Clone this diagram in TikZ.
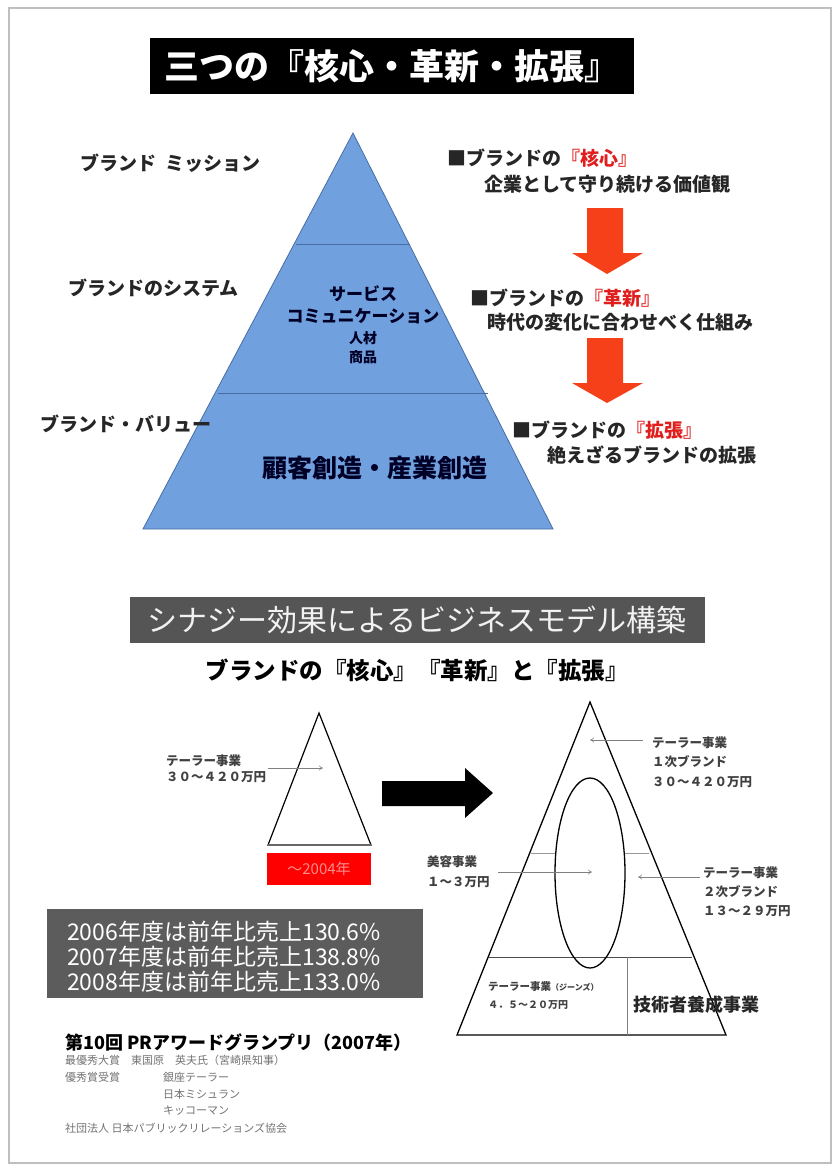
\documentclass[tikz,border=0pt]{standalone}
\usepackage{fontspec}
\setmainfont{Noto Sans CJK JP}
\usetikzlibrary{arrows.meta,shapes.geometric}
\definecolor{pyrblue}{RGB}{112,160,222}
\definecolor{pyredge}{RGB}{70,110,165}
\definecolor{arrred}{RGB}{245,64,26}
\definecolor{hired}{RGB}{225,30,30}
\definecolor{boxgrey}{RGB}{85,85,85}
\definecolor{statgrey}{RGB}{92,92,92}
\begin{document}
\begin{tikzpicture}[x=1pt,y=-1pt,
  txt/.style={inner sep=0pt},
  lab/.style={txt, font=\bfseries\fontsize{19}{22}\selectfont, text=black!85},
  mid/.style={txt, font=\bfseries\fontsize{17}{20}\selectfont, text=black!85!blue},
  sm/.style={txt, anchor=west, font=\bfseries\fontsize{12.5}{14}\selectfont\addfontfeature{RawFeature=+fwid}, text=black!75},
  note/.style={txt, anchor=west, font=\fontsize{11}{13}\selectfont, text=black!55},
  thinarrow/.style={draw=black!50, line width=0.6pt, -{To[length=4pt,width=5pt]}},
  outline/.style={draw=black, line width=1.3pt}
]
\useasboundingbox (0,0) rectangle (832,1164);
\fill[white] (0,0) rectangle (832,1164);
\draw[black!25, line width=1.5pt] (9,8) rectangle (831,1163);

% ---------- Title ----------
\node[fill=black, minimum width=484pt, minimum height=56pt, inner sep=0pt, text=white,
  font=\bfseries\fontsize{35}{38}\selectfont] (title) at (392,66) {三つの『核心・革新・拡張』};

% ---------- Blue pyramid ----------
\coordinate (apex) at (353,133);
\coordinate (bl) at (143,529);
\coordinate (br) at (553,529);
\filldraw[fill=pyrblue, draw=pyredge, line width=0.8pt] (apex) -- (bl) -- (br) -- cycle;
\draw[pyredge, line width=1pt] (296,244) -- (410,244);
\draw[pyredge, line width=1pt] (218,393) -- (488,393);

\node[mid] (svc) at (363,294) {サービス};
\node[mid] (comm) at (363,316) {コミュニケーション};
\node[mid, font=\bfseries\fontsize{14}{16}\selectfont] (hr) at (363,338) {人材};
\node[mid, font=\bfseries\fontsize{14}{16}\selectfont] (goods) at (363,357) {商品};
\node[txt, font=\bfseries\fontsize{25}{28}\selectfont, text=black!85!blue] (create) at (375,468) {顧客創造・産業創造};

% left labels
\node[lab, anchor=west] (mission) at (80,163) {ブランド\hspace{0.5em}ミッション};
\node[lab, anchor=west] (system) at (68,288) {ブランドのシステム};
\node[lab, anchor=west] (value) at (40,424) {ブランド・バリュー};

% right texts
\node[lab, anchor=west] (core) at (447,158) {■ブランドの\textcolor{hired}{『核心』}};
\node[lab, anchor=west] (coredesc) at (484,184) {企業として守り続ける価値観};
\node[lab, anchor=west] (innov) at (470,298) {■ブランドの\textcolor{hired}{『革新』}};
\node[lab, anchor=west] (innovdesc) at (487,322) {時代の変化に合わせべく仕組み};
\node[lab, anchor=west] (expand) at (512,430) {■ブランドの\textcolor{hired}{『拡張』}};
\node[lab, anchor=west] (expanddesc) at (547,455) {絶えざるブランドの拡張};

% red arrows
\fill[arrred] (587,208) -- (623,208) -- (623,253) -- (643,253) -- (607,274) -- (572,253) -- (587,253) -- cycle;
\fill[arrred] (587,338) -- (623,338) -- (623,383) -- (643,383) -- (607,403) -- (572,383) -- (587,383) -- cycle;

% ---------- Section 2 ----------
\node[fill=boxgrey, minimum width=575pt, minimum height=46pt, inner sep=0pt, text=white!95!black,
  font=\fontsize{30}{34}\selectfont] (synergy) at (417,620) {シナジー効果によるビジネスモデル構築};
\node[txt, font=\bfseries\fontsize{23.5}{28}\selectfont] (sub) at (417,670) {ブランドの『核心』『革新』と『拡張』};

% left small triangle
\draw[outline, line width=1.2pt, line join=miter] (319,713) -- (268,845) -- (371,845) -- cycle;
\draw[black!60, line width=1.6pt] (268,845) -- (371,845);
\node[fill=red, minimum width=104pt, minimum height=32pt, inner sep=0pt, text=red!45!white,
  font=\fontsize{15}{17}\selectfont] (year) at (319,869) {～2004年};
\node[sm] (tl1) at (166,761) {テーラー事業};
\node[sm] (tl2) at (166,777) {30～420万円};
\coordinate (a1s) at (268,768);
\coordinate (a1e) at (323,768);
\draw[thinarrow] (a1s) -- (a1e);

% big black arrow
\fill[black] (382,781) -- (465,781) -- (465,768) -- (493,793) -- (465,818) -- (465,806) -- (382,806) -- cycle;

% right triangle
\coordinate (rapex) at (590,702);
\coordinate (rbl) at (457,1035);
\coordinate (rbr) at (726,1035);
\draw[outline, line join=miter] (rapex) -- (rbl) -- (rbr) -- cycle;
\draw[black!70, line width=1pt] (489,957) -- (692,957);
\draw[black!50, line width=0.9pt] (627,957) -- (627,1035);
\draw[black!40, line width=1pt] (531,853) -- (556,853);
\draw[black!40, line width=1pt] (624,853) -- (649,853);
\node[draw=black, line width=1.3pt, ellipse, minimum width=70pt, minimum height=190pt, inner sep=0pt] (oval) at (590,873) {};

\node[sm] (r1a) at (652,743) {テーラー事業};
\node[sm] (r1b) at (652,762) {1次ブランド};
\node[sm] (r1c) at (652,782) {30～420万円};
\coordinate (a2s) at (643,740);
\coordinate (a2e) at (590,740);
\draw[thinarrow] (a2s) -- (a2e);

\node[sm] (b1) at (427,862) {美容事業};
\node[sm] (b2) at (427,882) {1～3万円};
\coordinate (a3s) at (498,872);
\coordinate (a3e) at (592,872);
\draw[thinarrow] (a3s) -- (a3e);

\node[sm] (r2a) at (703,873) {テーラー事業};
\node[sm] (r2b) at (703,892) {2次ブランド};
\node[sm] (r2c) at (703,911) {13～29万円};
\coordinate (a4s) at (700,877);
\coordinate (a4e) at (638,877);
\draw[thinarrow] (a4s) -- (a4e);

\node[sm, font=\bfseries\fontsize{10.5}{12}\selectfont\addfontfeature{RawFeature=+fwid}] (jeans1) at (488,987) {テーラー事業{\fontsize{8}{9}\selectfont (ジーンズ)}};
\node[sm, font=\bfseries\fontsize{10}{12}\selectfont\addfontfeature{RawFeature=+fwid}] (jeans2) at (488,1005) {4．5～20万円};
\node[txt, anchor=west, font=\bfseries\fontsize{18}{20}\selectfont, text=black!85] (tech) at (633,1005) {技術者養成事業};

% stats box
\node[fill=statgrey, minimum width=376pt, minimum height=89pt, inner sep=0pt] (stats) at (235,953) {};
\node[txt, anchor=west, text=white, font=\fontsize{23}{25}\selectfont, align=left] (statstext) at (67,957)
  {2006年度は前年比売上130.6\%\\2007年度は前年比売上138.8\%\\2008年度は前年比売上133.0\%};

% bottom texts
\node[txt, anchor=west, font=\bfseries\fontsize{18}{20}\selectfont] (award) at (65,1043) {第10回 PRアワードグランプリ（2007年）};
\node[note] (n1) at (65,1060) {最優秀大賞\hspace{1em}東国原\hspace{1em}英夫氏（宮崎県知事）};
\node[note] (n2) at (65,1077) {優秀賞受賞};
\node[note] (n3) at (163,1077) {銀座テーラー};
\node[note] (n4) at (163,1094) {日本ミシュラン};
\node[note] (n5) at (163,1111) {キッコーマン};
\node[note] (n6) at (65,1128) {社団法人 日本パブリックリレーションズ協会};
\end{tikzpicture}
\end{document}
